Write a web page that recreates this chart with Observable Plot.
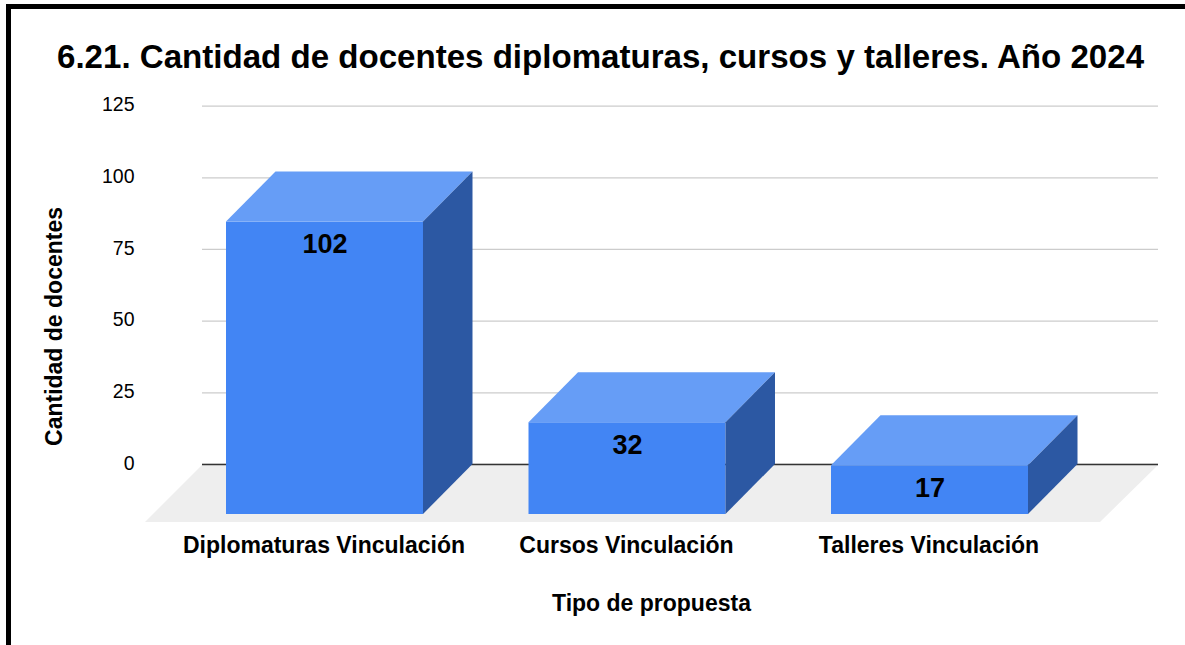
<!DOCTYPE html>
<html><head><meta charset="utf-8">
<script src="https://cdn.jsdelivr.net/npm/d3@7"></script>
<script src="https://cdn.jsdelivr.net/npm/@observablehq/plot@0.6"></script>
<style>
html,body{margin:0;padding:0;background:#fff;overflow:hidden}
#frame{position:absolute;left:6px;top:4px;width:1179px;height:641px;box-sizing:border-box;border-top:5px solid #000;border-left:5px solid #000;overflow:hidden}
#title{position:absolute;left:0;top:0;width:1174px;height:81px;font:bold 33.1px "Liberation Sans",Arial,sans-serif;color:#000;text-align:center}
#title span{position:absolute;left:46px;top:29px;white-space:nowrap}
#chart{position:absolute;left:0;top:81px}
#chart svg{display:block;font-family:"Liberation Sans",Arial,sans-serif}
</style></head><body>
<div id="frame"><div id="title"><span>6.21. Cantidad de docentes diplomaturas, cursos y talleres. Año 2024</span></div><div id="chart"></div></div>
<script>
const categories = ["Diplomaturas Vinculación", "Cursos Vinculación", "Talleres Vinculación"];
const docentes = [102, 32, 17];
const yTicks = [0, 25, 50, 75, 100, 125];
const yLabel = "Cantidad de docentes";
const xLabel = "Tipo de propuesta";
const rows = categories.map((c, i) => ({categoria: c, docentes: docentes[i]}));

const depthX = 49.5, depthY = 50;
const floorOverhang = 7;
const colors = {front: "#4285f4", top: "#669df6", side: "#2c58a3", floor: "#eeeeee", grid: "#cccccc", zero: "#333333"};

// Parallelogram faces of the 3D bars, positioned from the chart's own scales.
function face(kind, fill) {
  return (index, scales, values, dimensions, context) => {
    const g = d3.select(context.document.createElementNS("http://www.w3.org/2000/svg", "g"));
    const bw = scales.x.bandwidth();
    const base = scales.y(0);
    for (const r of rows) {
      const l = scales.x(r.categoria), rr = l + bw, t = scales.y(r.docentes);
      const pts = kind === "top"
        ? [[l, t + depthY], [rr, t + depthY], [rr + depthX, t], [l + depthX, t]]
        : [[rr, t + depthY], [rr + depthX, t], [rr + depthX, base], [rr, base + depthY]];
      g.append("path").attr("d", "M" + pts.join("L") + "Z").attr("fill", fill);
    }
    return g.node();
  };
}
function floor(index, scales, values, dimensions, context) {
  const y0 = scales.y(0) + 1;
  const {marginLeft: a, width, marginRight} = dimensions;
  const b = width - marginRight;
  const d = depthY + floorOverhang;
  const path = context.document.createElementNS("http://www.w3.org/2000/svg", "path");
  path.setAttribute("d", `M${a},${y0}L${b},${y0}L${b - d - 1},${y0 + d}L${a - d},${y0 + d}Z`);
  path.setAttribute("fill", colors.floor);
  return path;
}

const svg = Plot.plot({
  width: 1174,
  height: 560,
  marginLeft: 191,
  marginRight: 27,
  marginTop: 37,
  marginBottom: 125,
  style: {background: "transparent", overflow: "visible"},
  x: {type: "band", domain: categories, range: [162.25, 1069.75], paddingInner: 0.3488, paddingOuter: 0.1744, round: false, label: null},
  y: {domain: [0, 125], range: [374, 15.6], label: null},
  marks: [
    Plot.gridY(yTicks, {stroke: colors.grid, strokeOpacity: 1, strokeWidth: 1.3}),
    floor,
    Plot.ruleY([0], {stroke: colors.zero, strokeWidth: 1.5}),
    Plot.barY(rows, {x: "categoria", y: "docentes", fill: colors.front, dy: depthY}),
    face("top", colors.top),
    face("side", colors.side),
    Plot.text(rows, {x: "categoria", y: "docentes", text: "docentes", dy: depthY + 22.5, fontSize: 27, fontWeight: "bold", fill: "#000"}),
    Plot.axisY(yTicks, {anchor: "left", tickSize: 0, tickPadding: 68, fontSize: 19.5, dy: -1, label: yLabel, labelAnchor: "center", labelOffset: 157, labelArrow: "none", fill: "#000"}),
    Plot.axisX({anchor: "bottom", tickSize: 0, tickPadding: 11, fontSize: 23, fontWeight: "bold", label: null, dx: -1, fill: "#000"}),
    Plot.text([xLabel], {frameAnchor: "bottom", dx: -29, dy: 85, fontSize: 23, fontWeight: "bold", fill: "#000"})
  ]
});
document.getElementById("chart").append(svg);
// Axis title weight/size match the reference's bold labels.
svg.querySelectorAll('[aria-label="y-axis label"] text').forEach(t => { t.setAttribute("font-weight", "bold"); t.setAttribute("font-size", 23); });
</script>
</body></html>
